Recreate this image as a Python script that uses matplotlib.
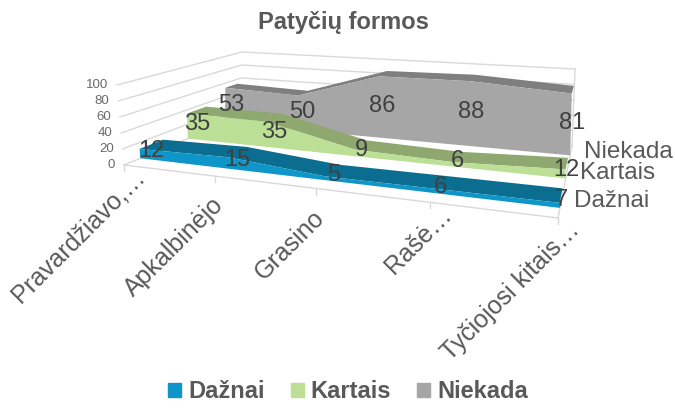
"""Patyciu formos: 3D area chart drawn on a flat axes with a small projection helper."""

import matplotlib

matplotlib.use("Agg")
import matplotlib.pyplot as plt
from matplotlib.patches import Patch, Polygon

plt.rcParams["font.family"] = ["Liberation Sans", "DejaVu Sans"]

categories = ["Pravardžiavo,…", "Apkalbinėjo", "Grasino", "Rašė…", "Tyčiojosi kitais…"]
daznai = [12, 15, 5, 6, 7]
kartais = [35, 35, 9, 6, 12]
niekada = [53, 50, 86, 88, 81]
y_ticks = [0, 20, 40, 60, 80, 100]

# box corners in pixels: (x along categories, depth, height)
CORNERS = {
    (0, 0, 0): (124, 165),
    (0, 0, 1): (117, 85),
    (0, 1, 0): (240, 117),
    (0, 1, 1): (242, 52),
    (1, 0, 0): (558, 218),
    (1, 0, 1): (553, 146),
    (1, 1, 0): (572, 146),
    (1, 1, 1): (575, 69),
}
PERSPECTIVE = 0.797


def project(cat, depth, value):
    u = cat / (len(categories) - 1)
    t = PERSPECTIVE * u / (1 + (PERSPECTIVE - 1) * u)
    z = value / 100
    px, py = 0.0, 0.0
    for (i, j, k), (cx, cy) in CORNERS.items():
        w = (t if i else 1 - t) * (depth if j else 1 - depth) * (z if k else 1 - z)
        px += w * cx
        py += w * cy
    return px, py


def draw_area(ax, values, front, back, face, top):
    n = len(values)
    front_top = [project(i, front, values[i]) for i in range(n)]
    back_top = [project(i, back, values[i]) for i in range(n)]
    front_base = [project(i, front, 0) for i in range(n)]
    ax.add_patch(Polygon(front_top + back_top[::-1], closed=True, fc=top, ec="none", zorder=3))
    ax.add_patch(Polygon(front_top + front_base[::-1], closed=True, fc=face, ec="none", zorder=3))
    for i in range(n):
        x, y = project(i, (front + back) / 2, values[i] / 2)
        ax.text(x, y + 2, str(values[i]), fontsize=17, color="#404040", ha="center", va="center", zorder=5)


def main():
    fig = plt.figure(figsize=(6.75, 4.08), dpi=100)
    ax = fig.add_axes([0, 0, 1, 1])
    ax.set_xlim(0, 675)
    ax.set_ylim(408, 0)
    ax.axis("off")

    grid = "#d9d9d9"
    last = len(categories) - 1
    for v in y_ticks:
        pts = [project(0, 0, v), project(0, 1, v), project(last, 1, v)]
        ax.plot(*zip(*pts), color=grid, lw=1, zorder=1)
        x, y = project(0, 0, v)
        ax.text(x - 9, y, str(v), fontsize=9.5, color="#6a6a6a", ha="right", va="center")

    ax.plot(*zip(project(0, 0, 0), project(last, 0, 0)), color=grid, lw=1, zorder=1)
    ax.plot(*zip(project(last, 0, 0), project(last, 1, 0)), color=grid, lw=1, zorder=1)
    ax.plot(*zip(project(last, 1, 0), project(last, 1, 100)), color=grid, lw=1, zorder=1)
    for i, label in enumerate(categories):
        x, y = project(i, 0, 0)
        ax.plot([x, x], [y, y + 6], color=grid, lw=1, zorder=1)
        # shortened labels sit further right, their dots run up to the axis
        dx, dy = (9, 0) if label.endswith("…") else (-4, 17)
        ax.text(x + dx, y + dy, label, fontsize=18, color="#595959", rotation=45,
                rotation_mode="anchor", ha="right", va="top")

    series = [
        ("Niekada", niekada, 0.87, 0.97, "#a6a6a6", "#7f7f7f"),
        ("Kartais", kartais, 0.55, 0.71, "#bbe095", "#8ea870"),
        ("Dažnai", daznai, 0.14, 0.34, "#0f96c8", "#0b6e90"),
    ]
    for name, values, front, back, face, top in series:
        draw_area(ax, values, front, back, face, top)
        x, y = project(last, (front + back) / 2, 0)
        ax.text(x + 13, y, name, fontsize=17.5, color="#595959", ha="left", va="center", zorder=5)

    ax.text(343, 23, "Patyčių formos", fontsize=17, fontweight="bold", color="#595959",
            ha="center", va="center")

    handles = [Patch(color=s[4], label=s[0]) for s in series[::-1]]
    ax.legend(handles=handles, loc="center", bbox_to_anchor=(348, 392), bbox_transform=ax.transData,
              ncol=3, frameon=False, handlelength=0.55, handleheight=0.55, handletextpad=0.3,
              columnspacing=1.1, labelcolor="#595959", prop={"size": 17, "weight": "bold"})

    fig.savefig("out.png", dpi=100)


if __name__ == "__main__":
    main()
